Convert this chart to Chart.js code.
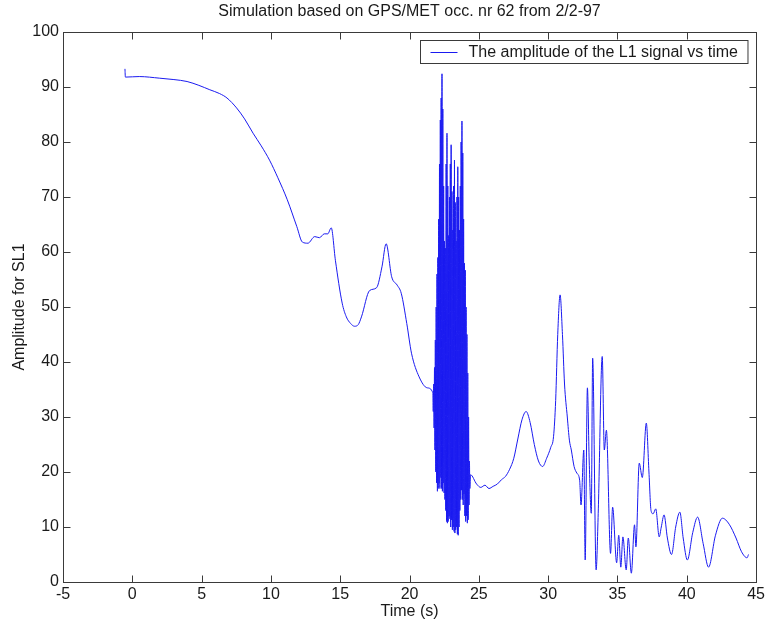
<!DOCTYPE html>
<html><head><meta charset="utf-8">
<script src="https://cdn.jsdelivr.net/npm/chart.js@4.4.1/dist/chart.umd.min.js"></script>
<style>html,body{margin:0;padding:0;background:#fff;}canvas{display:block;}</style>
</head><body>
<canvas id="c" width="768" height="623"></canvas>
<script>
const chartTitle = "Simulation based on GPS/MET occ. nr 62 from 2/2-97";
const seriesLabel = "The amplitude of the L1 signal vs time";
const xAxisTitle = "Time (s)";
const yAxisTitle = "Amplitude for SL1";
const xMin = -5, xMax = 45, xStep = 5;
const yMin = 0, yMax = 100, yStep = 10;

// smooth start (t < 21.7 s)
const timeEarly = [-0.53,-0.50,0.5,1.98,3.0,3.95,4.8,5.59,6.3,6.83,7.52,8.1,8.71,9.3,9.9,10.5,11.18,11.87,12.27,12.67,13.16,13.5,13.85,14.1,14.35,14.65,15.14,15.44,15.75,16.03,16.3,16.53,17.12,17.62,18.01,18.31,18.71,19.1,19.4,19.8,20.14,20.69,21.28,21.68];
const ampEarly  = [93.3,91.8,91.9,91.6,91.35,91.0,90.3,89.5,88.8,88.0,86.2,84.2,81.6,79.3,76.7,73.5,69.5,64.6,61.8,61.6,62.8,62.6,63.3,63.3,64.4,58.5,50.7,48.2,47.0,46.5,46.8,48.2,53.0,53.5,57.3,61.5,55.5,54.0,52.5,47.0,41.6,37.3,35.3,34.4];

// strong scintillation burst (21.7 - 24.4 s)
const timeBurst = [21.71,21.74,21.77,21.80,21.83,21.86,21.89,21.92,21.95,21.98,22.01,22.04,22.07,22.10,22.13,22.16,22.19,22.22,22.25,22.28,22.31,22.34,22.37,22.40,22.43,22.46,22.49,22.52,22.55,22.58,22.61,22.64,22.67,22.70,22.73,22.76,22.79,22.82,22.85,22.88,22.91,22.94,22.97,23.00,23.03,23.06,23.09,23.12,23.15,23.18,23.21,23.24,23.27,23.30,23.33,23.36,23.39,23.42,23.45,23.48,23.51,23.54,23.57,23.60,23.63,23.66,23.69,23.72,23.75,23.78,23.81,23.84,23.87,23.90,23.93,23.96,23.99,24.02,24.05,24.08,24.11,24.14,24.17,24.20,24.23,24.26,24.29,24.32,24.35,24.40];
const ampBurst  = [31,36,28,39,24,44,20,50,18,56,16.5,59,17,66,18,76,17,84,19,88,17,92.4,16.5,86,18,72,16.2,62,15,60.7,13,76,11,81.6,10.7,72,11,63,12,70,11.5,76,10,79.5,11.3,71,9.5,64,10,72,9.2,76.7,8.9,69,9.5,62,10,70,8.7,75.5,8.5,70,10,64,13,72,15,80,16.7,83.8,15,78,14,66,16,58,12,56.7,11,50,12,45,10.7,38,11.3,30,14,22,17,19.5];

// remainder (t > 24.4 s)
const timeLate = [24.84,25.14,25.44,25.73,26.03,26.33,26.63,26.92,27.22,27.52,27.81,28.11,28.41,28.70,29.00,29.30,29.60,29.89,30.19,30.39,30.54,30.69,30.86,31.03,31.18,31.38,31.53,31.67,31.87,32.07,32.27,32.37,32.57,32.67,32.83,32.96,33.11,33.21,33.46,33.61,33.90,34.05,34.20,34.50,34.65,34.94,35.09,35.24,35.39,35.63,35.78,36.00,36.23,36.33,36.57,36.79,37.08,37.27,37.42,37.57,37.76,38.01,38.16,38.36,38.60,38.90,39.20,39.50,39.74,40.04,40.43,40.78,41.18,41.57,42.07,42.57,43.06,43.55,43.95,44.35,44.45];
const ampLate  = [17.8,17.2,17.6,17.0,17.4,17.8,18.6,19.2,20.5,22.5,26.0,29.5,31.0,29.0,25.0,22.0,21.0,22.5,24.5,26.5,33.0,45.0,52.2,45.0,36.0,30.0,25.8,24.0,21.0,19.8,18.5,14.0,24.0,4.0,35.3,22.0,12.5,40.7,2.2,12.5,41.0,24.0,27.6,5.2,13.6,3.5,8.5,2.7,8.2,2.2,8.0,1.6,10.4,6.4,21.6,19.0,28.9,20.0,13.0,12.4,13.3,8.2,10.0,12.2,8.0,5.0,10.0,12.7,8.0,4.0,9.0,11.8,7.0,2.7,8.5,11.6,10.5,8.0,5.5,4.4,5.0];

const timeS = timeEarly.concat(timeBurst, timeLate);
const amplitude = ampEarly.concat(ampBurst, ampLate);
const points = timeS.map((t, i) => ({x: t, y: amplitude[i]}));

const FONT = "'Liberation Sans', Arial, sans-serif";
const LINE_COLOR = '#1a1af0';
const AXIS_COLOR = '#3a3a3a';
const TEXT_COLOR = '#1a1a1a';

const matlabBox = {
  id: 'matlabBox',
  afterDraw(chart) {
    const {ctx, chartArea: a, scales: {x, y}} = chart;
    const L = Math.round(a.left) + 0.5, R = Math.round(a.right) + 0.5;
    const T = Math.round(a.top) + 0.5, B = Math.round(a.bottom) + 0.5;
    ctx.save();
    ctx.strokeStyle = AXIS_COLOR;
    ctx.lineWidth = 1;
    ctx.strokeRect(L, T, R - L, B - T);
    const tl = 7;
    ctx.beginPath();
    x.ticks.forEach(t => {
      const px = Math.round(x.getPixelForValue(t.value)) + 0.5;
      ctx.moveTo(px, B); ctx.lineTo(px, B - tl);
      ctx.moveTo(px, T); ctx.lineTo(px, T + tl);
    });
    y.ticks.forEach(t => {
      const py = Math.round(y.getPixelForValue(t.value)) + 0.5;
      ctx.moveTo(L, py); ctx.lineTo(L + tl, py);
      ctx.moveTo(R, py); ctx.lineTo(R - tl, py);
    });
    ctx.stroke();

    // legend box (top-right, inside axes)
    ctx.font = '16px ' + FONT;
    const label = chart.data.datasets[0].label;
    const tw = ctx.measureText(label).width;
    const boxW = 10 + 27 + 11 + tw + 10;
    const boxH = 23;
    const bx = Math.round(a.right - 9 - boxW) + 0.5;
    const by = Math.round(a.top + 8) + 0.5;
    ctx.fillStyle = '#fff';
    ctx.fillRect(bx, by, boxW, boxH);
    ctx.strokeStyle = AXIS_COLOR;
    ctx.strokeRect(bx, by, boxW, boxH);
    ctx.strokeStyle = LINE_COLOR;
    ctx.beginPath();
    ctx.moveTo(bx + 10, by + 12); ctx.lineTo(bx + 37, by + 12);
    ctx.stroke();
    ctx.fillStyle = TEXT_COLOR;
    ctx.textBaseline = 'middle';
    ctx.textAlign = 'left';
    ctx.fillText(label, bx + 48, by + boxH / 2 + 1);
    ctx.restore();
  }
};

new Chart(document.getElementById('c'), {
  type: 'line',
  data: {
    datasets: [{
      label: seriesLabel,
      data: points,
      borderColor: LINE_COLOR,
      borderWidth: 1,
      pointRadius: 0,
      cubicInterpolationMode: 'monotone',
      fill: false
    }]
  },
  options: {
    responsive: false,
    animation: false,
    devicePixelRatio: 1,
    layout: {padding: {left: 0, right: 11, top: 0, bottom: 0}},
    plugins: {
      legend: {display: false},
      tooltip: {enabled: false},
      title: {
        display: true, text: chartTitle, color: TEXT_COLOR, fullSize: false,
        font: {family: FONT, size: 16, weight: 'normal', lineHeight: 1.2},
        padding: {top: 2.4, bottom: 10.4}
      }
    },
    scales: {
      x: {
        type: 'linear', min: xMin, max: xMax,
        ticks: {stepSize: xStep, padding: 3, color: TEXT_COLOR, autoSkip: false, maxRotation: 0,
                font: {family: FONT, size: 16}},
        grid: {display: false, drawTicks: false},
        border: {display: false},
        title: {display: true, text: xAxisTitle, color: TEXT_COLOR,
                font: {family: FONT, size: 16, lineHeight: 1.2}, padding: {top: 0, bottom: 1.4}},
        afterFit(s) { s.height = 41; }
      },
      y: {
        type: 'linear', min: yMin, max: yMax,
        ticks: {stepSize: yStep, padding: 4, color: TEXT_COLOR, font: {family: FONT, size: 16}},
        grid: {display: false, drawTicks: false},
        border: {display: false},
        title: {display: true, text: yAxisTitle, color: TEXT_COLOR,
                font: {family: FONT, size: 16, lineHeight: 1.2}, padding: {top: 10.4, bottom: 0}},
        afterFit(s) { s.width = 63; }
      }
    }
  },
  plugins: [matlabBox]
});
</script>
</body></html>
